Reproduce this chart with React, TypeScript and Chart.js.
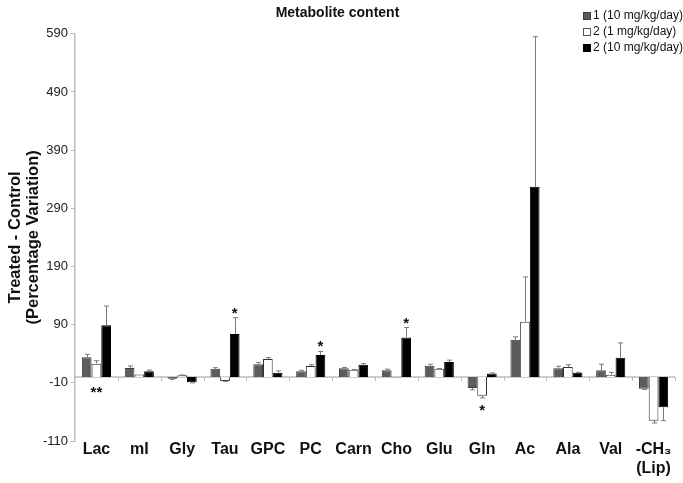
import React, { useEffect, useRef } from "react";
import { Chart, registerables } from "chart.js";
Chart.register(...registerables);

const FONT = "Arial, 'Liberation Sans', Helvetica, sans-serif";

const categories: (string | string[])[] = ["Lac", "mI", "Gly", "Tau", "GPC", "PC", "Carn", "Cho", "Glu", "Gln", "Ac", "Ala", "Val", ["-CH₃", "(Lip)"]];
const seriesNames = ["1 (10 mg/kg/day)", "2 (1 mg/kg/day)", "2 (10 mg/kg/day)"];

const c1_10 = [34, 15.5, -3, 14, 22, 10, 15, 11.5, 19.5, -19, 64, 15, 11.5, -20];
const c1_10Err = [5, 3.5, 1, 2, 3, 1.5, 1.5, 2, 2.5, 3, 5, 3.5, 10.5, 1.5];
const c2_1 = [23, 4.5, 3, -7, 31, 19, 12.5, -1, 14, -32, 95, 17, 4, -75];
const c2_1Err = [5, 0, 0.5, 0.5, 2.5, 2, 0.5, 0, 0.5, 4, 77, 4, 4, 4];
const c2_10 = [89, 10, -9, 74, 7.5, 38, 21, 68, 26, 6, 327, 7.5, 33, -52];
const c2_10Err = [33, 2, 1, 28, 3, 6, 2, 17, 3, 1, 258, 0.5, 25.5, 23];

// significance marks: [series index, category index, text, side]
const sigSeries = [1, 1, 2, 2, 2];
const sigCategory = [0, 9, 3, 5, 7];
const sigText = ["**", "*", "*", "*", "*"];
const sigSide = ["below", "below", "above", "above", "above"];

const yTicks = [-110, -10, 90, 190, 290, 390, 490, 590];

const errors = [c1_10Err, c2_1Err, c2_10Err];
const fills = ["#5c5c5c", "#ffffff", "#000000"];
const borders = ["#3f3f3f", "#333333", "#000000"];

const zeroLinePlugin = {
  id: "zeroLine",
  beforeDatasetsDraw(chart: any) {
    const { ctx, chartArea, scales } = chart;
    const y0 = scales.y.getPixelForValue(0);
    ctx.save();
    ctx.strokeStyle = "#bdbdbd";
    ctx.lineWidth = 1.5;
    ctx.beginPath();
    ctx.moveTo(chartArea.left, y0);
    ctx.lineTo(chartArea.right, y0);
    ctx.stroke();
    const n = categories.length;
    const w = (chartArea.right - chartArea.left) / n;
    ctx.lineWidth = 1;
    for (let i = 1; i <= n; i++) {
      const x = Math.round(chartArea.left + i * w) + 0.5;
      ctx.beginPath();
      ctx.moveTo(x, y0);
      ctx.lineTo(x, y0 + 4);
      ctx.stroke();
    }
    ctx.restore();
  },
};

const errorBarPlugin = {
  id: "errorBars",
  afterDatasetsDraw(chart: any) {
    const { ctx, scales } = chart;
    ctx.save();
    ctx.strokeStyle = "#7a7a7a";
    ctx.lineWidth = 1;
    chart.data.datasets.forEach((ds: any, di: number) => {
      const meta = chart.getDatasetMeta(di);
      meta.data.forEach((bar: any, i: number) => {
        const v = ds.data[i];
        const e = errors[di][i];
        if (!e) return;
        const end = scales.y.getPixelForValue(v + Math.sign(v) * e);
        const x = Math.round(bar.x) + 0.5;
        ctx.beginPath();
        ctx.moveTo(x, bar.y);
        ctx.lineTo(x, end);
        ctx.moveTo(x - 2.5, end);
        ctx.lineTo(x + 2.5, end);
        ctx.stroke();
      });
    });
    ctx.restore();
  },
};

const sigPlugin = {
  id: "sigMarks",
  afterDatasetsDraw(chart: any) {
    const { ctx, scales } = chart;
    ctx.save();
    ctx.fillStyle = "#111";
    ctx.font = `bold 15px ${FONT}`;
    ctx.textAlign = "center";
    ctx.textBaseline = "alphabetic";
    sigText.forEach((t, k) => {
      const di = sigSeries[k];
      const ci = sigCategory[k];
      const bar = chart.getDatasetMeta(di).data[ci];
      const v = chart.data.datasets[di].data[ci];
      const e = errors[di][ci];
      const y0 = scales.y.getPixelForValue(0);
      let yc: number;
      if (sigSide[k] === "above") {
        const top = scales.y.getPixelForValue(Math.max(0, v + (v > 0 ? e : 0)));
        yc = top - 9;
      } else {
        const bot = scales.y.getPixelForValue(Math.min(0, v - (v < 0 ? e : 0)));
        yc = Math.max(bot, y0) + (v < 0 ? 8 : 11);
      }
      ctx.fillText(t, bar.x, yc + 9);
    });
    ctx.restore();
  },
};

const legendPlugin = {
  id: "customLegend",
  afterDraw(chart: any) {
    const { ctx } = chart;
    ctx.save();
    ctx.font = `12px ${FONT}`;
    ctx.textBaseline = "middle";
    ctx.textAlign = "left";
    seriesNames.forEach((name, i) => {
      const y = 16 + i * 16;
      const x = 583;
      ctx.fillStyle = fills[i];
      ctx.fillRect(x, y - 4, 8, 8);
      ctx.strokeStyle = i === 1 ? "#555" : borders[i];
      ctx.lineWidth = 1;
      ctx.strokeRect(x + 0.5, y - 3.5, 7, 7);
      ctx.fillStyle = "#111";
      ctx.fillText(name, x + 10, y);
    });
    ctx.restore();
  },
};

export default function App() {
  const ref = useRef<HTMLCanvasElement>(null);
  useEffect(() => {
    if (!ref.current) return;
    const data = [c1_10, c2_1, c2_10];
    const chart = new Chart(ref.current, {
      type: "bar",
      data: {
        labels: categories as any,
        datasets: data.map((d, i) => ({
          label: seriesNames[i],
          data: d,
          backgroundColor: fills[i],
          borderColor: borders[i],
          borderWidth: 1,
          categoryPercentage: 0.68,
          barPercentage: 1,
        })),
      },
      options: {
        animation: false,
        responsive: false,
        maintainAspectRatio: false,
        layout: { padding: { left: 0, right: 8, top: 0, bottom: 0 } },
        plugins: {
          legend: { display: false },
          tooltip: { enabled: false },
          title: {
            display: true,
            text: "Metabolite content",
            color: "#111",
            font: { family: FONT, size: 14, weight: "bold", lineHeight: 1.2 },
            padding: { top: 5, bottom: 12 },
          },
        },
        scales: {
          x: {
            type: "category",
            grid: { display: false, drawTicks: false },
            border: { display: false },
            ticks: {
              color: "#111",
              font: { family: FONT, size: 16, weight: "bold", lineHeight: 1.2 },
              padding: -1,
              maxRotation: 0,
              autoSkip: false,
            },
            afterFit(s: any) {
              s.height = 42;
            },
          },
          y: {
            min: -110,
            max: 590,
            grid: { display: true, drawOnChartArea: false, tickLength: 4, color: "#bdbdbd" },
            border: { display: true, color: "#bdbdbd", width: 1.5 },
            ticks: {
              color: "#222",
              font: { family: FONT, size: 13 },
              padding: 3,
            },
            afterBuildTicks(s: any) {
              s.ticks = yTicks.map((v) => ({ value: v }));
            },
            afterFit(s: any) {
              s.width = 75;
            },
            title: {
              display: true,
              text: ["Treated - Control", "(Percentage Variation)"],
              color: "#111",
              font: { family: FONT, size: 16.5, weight: "bold", lineHeight: 1.05 },
              padding: { top: 7, bottom: 0 },
            },
          },
        },
      },
      plugins: [zeroLinePlugin, errorBarPlugin, sigPlugin, legendPlugin],
    });
    return () => chart.destroy();
  }, []);
  return (
    <div style={{ position: "fixed", left: 0, top: 0, width: 683, height: 483, background: "#fff" }}>
      <canvas ref={ref} width={683} height={483} style={{ width: 683, height: 483, display: "block" }} />
    </div>
  );
}
